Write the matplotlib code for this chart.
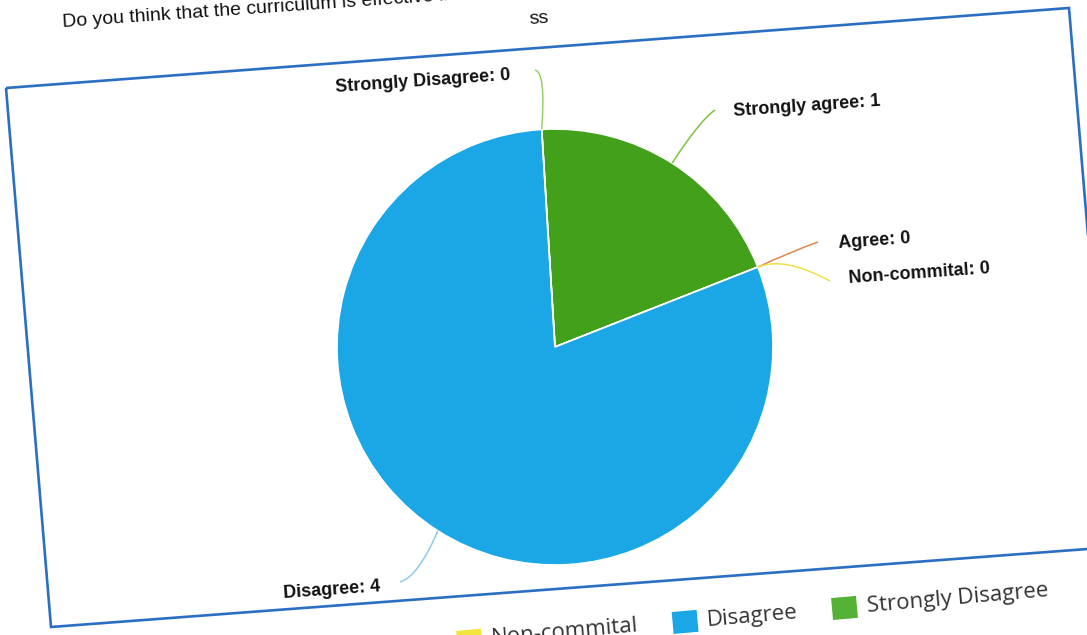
import numpy as np
import matplotlib.pyplot as plt
from matplotlib.patches import Polygon, Rectangle, PathPatch
from matplotlib.path import Path

labels = ['Strongly agree', 'Agree', 'Non-commital', 'Disagree', 'Strongly Disagree']
counts = [1, 0, 0, 4, 0]
colors = ['#42a01a', '#d9884f', '#f2e43a', '#1ba6e5', '#56b236']
line_colors = ['#7cc242', '#d9884f', '#efe04a', '#8ccbee', '#9bcf6a']

title = 'Do you think that the curriculum is effective in'
subtitle = 'ss'

W, H = 1087, 635
TILT = 4.0  # the photo of the screen is slightly rotated
LEG_TILT = 5.0

fig = plt.figure(figsize=(W / 100, H / 100), dpi=100)
ax = fig.add_axes([0, 0, 1, 1])


def P(x, y):
    # pixel coords (y down) -> data coords (y up)
    return (x, H - y)


# frame of the chart area
frame = Polygon([P(6, 88), P(1069, 8), P(1114, 547), P(51, 627)], closed=True,
                fill=False, edgecolor='#2b6fc2', linewidth=1.9)
ax.add_patch(frame)

# pie
cx, cy, r = 555, 347, 218
start = 93.5
ax.pie(counts, colors=colors, startangle=start, counterclock=False,
       center=P(cx, cy), radius=r,
       wedgeprops=dict(edgecolor='white', linewidth=1.2))
ax.set_xlim(0, W)
ax.set_ylim(0, H)
ax.set_aspect('equal')
ax.axis('off')

# data labels with leader lines
total = sum(counts)
cum = np.cumsum([0] + counts[:-1])
mids = [start - 360 * (c + v / 2) / total for c, v in zip(cum, counts)]

label_pos = [(733, 112), (838, 244), (849, 279), (283, 594), (335, 88)]
leader_ctrl = [(700, 120), (790, 252), (784, 256), (418, 577), (546, 72)]
leader_end = [(715, 110), (818, 242), (830, 281), (400, 582), (535, 70)]

for i, lab in enumerate(labels):
    a = np.radians(mids[i])
    anchor = P(cx + r * np.cos(a), cy - r * np.sin(a))
    path = Path([anchor, P(*leader_ctrl[i]), P(*leader_end[i])],
                [Path.MOVETO, Path.CURVE3, Path.CURVE3])
    ax.add_patch(PathPatch(path, fill=False, edgecolor=line_colors[i], linewidth=1.1))
    ax.text(*P(*label_pos[i]), f'{lab}: {counts[i]}', fontsize=13, fontweight='bold',
            family='Liberation Sans', color='#111111', rotation=TILT,
            rotation_mode='anchor', ha='left', va='center')

# title text (cut by the top of the photo)
ax.text(*P(62, 23), title, fontsize=14, family='Liberation Sans', color='#111111',
        rotation=TILT, rotation_mode='anchor', ha='left', va='center')
ax.text(*P(539, 19), subtitle, fontsize=14, family='Liberation Sans', color='#111111',
        rotation=TILT, rotation_mode='anchor', ha='center', va='center')

# legend along the tilted bottom line
renderer = fig.canvas.get_renderer()
ux, uy = np.cos(np.radians(LEG_TILT)), np.sin(np.radians(LEG_TILT))
sq_w, sq_h, gap_in, gap_out = 25, 22, 8, 36
items = []
s = 0.0
for i, lab in enumerate(labels):
    t = ax.text(0, 0, lab, fontsize=16, family='Open Sans', color='#333333')
    tw = t.get_window_extent(renderer).width
    items.append((s, t))
    s += sq_w + gap_in + tw + gap_out

# place the last item's square at its spot in the picture
ref_s = items[-1][0]
bx, by = P(833, 620)
for i, (si, t) in enumerate(items):
    d = si - ref_s
    x0, y0 = bx + d * ux, by + d * uy
    ax.add_patch(Rectangle((x0, y0), sq_w, sq_h, angle=LEG_TILT, facecolor=colors[i],
                           edgecolor='none'))
    tx = x0 + (sq_w + gap_in) * ux - (sq_h / 2) * -uy
    ty = y0 + (sq_w + gap_in) * uy + (sq_h / 2) * ux
    t.set_position((tx, ty))
    t.set_rotation(LEG_TILT)
    t.set_rotation_mode('anchor')
    t.set_ha('left')
    t.set_va('center')

fig.savefig('out.png', dpi=100, facecolor='white')
